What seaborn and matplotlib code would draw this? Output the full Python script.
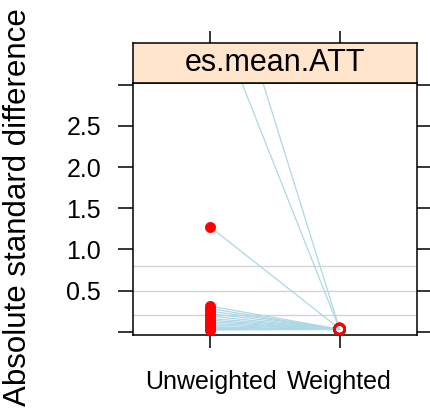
import matplotlib
matplotlib.use("Agg")
import matplotlib.pyplot as plt
import numpy as np
import pandas as pd
import seaborn as sns

# Absolute standardized differences per covariate, before and after weighting
covariates = ["c01", "c02", "c03", "c04", "c05", "c06", "c07", "c08", "c09",
              "c10", "c11", "c12", "c13", "c14", "c15", "c16", "c17", "c18"]
unweighted = [5.07, 3.98, 1.27, 0.31, 0.28, 0.25, 0.22, 0.19, 0.16,
              0.14, 0.12, 0.10, 0.08, 0.06, 0.05, 0.04, 0.03, 0.02]
weighted = [0.035, 0.03, 0.035, 0.03, 0.025, 0.03, 0.03, 0.025, 0.035,
            0.025, 0.03, 0.025, 0.03, 0.025, 0.03, 0.03, 0.025, 0.03]
stages = ["Unweighted", "Weighted"]
ref_lines = [0.2, 0.5, 0.8]
y_ticks = [0.0, 0.5, 1.0, 1.5, 2.0, 2.5, 3.0]
y_tick_labels = ["", "0.5", "1.0", "1.5", "2.0", "2.5", ""]
panel_title = "es.mean.ATT"

df = pd.DataFrame({
    "covariate": covariates * 2,
    "stage": [stages[0]] * len(covariates) + [stages[1]] * len(covariates),
    "value": unweighted + weighted,
})
df["pos"] = df["stage"].map({s: i for i, s in enumerate(stages)})

sns.set_theme(style="white")
plt.rcParams["font.family"] = ["Liberation Sans", "DejaVu Sans"]
plt.rcParams["axes.edgecolor"] = "black"
plt.rcParams["axes.linewidth"] = 1.1

W, H = 430, 415
fig = plt.figure(figsize=(W / 100, H / 100), dpi=100)
ax = fig.add_axes([133 / W, 1 - 335 / H, (417 - 133) / W, (335 - 83) / H])
sax = fig.add_axes([133 / W, 1 - 83 / H, (417 - 133) / W, 40 / H])

for r in ref_lines:
    ax.axhline(r, color="#D3D3D3", lw=1.0, zorder=1)

sns.lineplot(data=df, x="pos", y="value", units="covariate", estimator=None,
             sort=False, color="#ADD8E6", lw=0.9, ax=ax, legend=False, zorder=2)

before = df[df["stage"] == stages[0]]
after = df[df["stage"] == stages[1]]
sns.scatterplot(data=before, x="pos", y="value", color="red", s=55,
                edgecolor="red", linewidth=0.5, ax=ax, legend=False, zorder=3)
sns.scatterplot(data=after, x="pos", y="value", facecolor="none",
                edgecolor="red", s=55, linewidth=1.6, ax=ax, legend=False,
                zorder=3)

ax.set_xlim(-0.6, 1.6)
ax.set_ylim(-0.04, 3.02)
ax.set_xticks(range(len(stages)))
ax.set_xticklabels(stages)
ax.set_yticks(y_ticks)
ax.set_yticklabels(y_tick_labels)
ax.set_xlabel("")
ax.set_ylabel("")
ax.tick_params(axis="y", which="both", left=True, right=True, direction="out",
               length=11, width=1.1, labelsize=18, pad=12, colors="black")
ax.tick_params(axis="x", bottom=True, top=False, direction="out", length=9,
               width=1.1, labelsize=18, pad=16, colors="black")

# strip with the panel name
sax.set_facecolor("#FFE5CC")
sax.set_xlim(ax.get_xlim())
sax.set_ylim(0, 1)
sax.set_xticks(range(len(stages)))
sax.set_yticks([])
sax.tick_params(axis="x", bottom=False, top=True, labelbottom=False,
                labeltop=False, direction="out", length=9, width=1.1,
                colors="black")
sax.text(0.5, 0.5, panel_title, transform=sax.transAxes, ha="center",
         va="center", fontsize=22, color="black")

fig.text(18.5 / W, 0.5, "Absolute standard difference", rotation=90,
         ha="center", va="center", fontsize=22.5, color="black")

fig.savefig("out.png", dpi=100)
